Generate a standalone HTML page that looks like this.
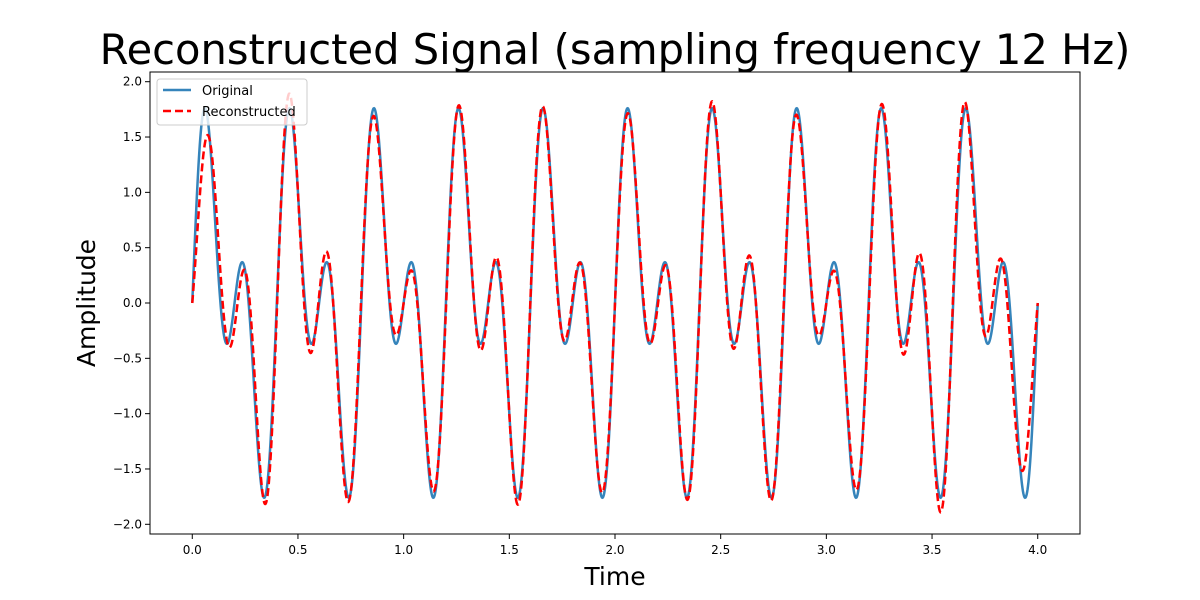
<!DOCTYPE html>
<html><head><meta charset="utf-8">
<style>
html,body{margin:0;padding:0;background:#fff;}
svg{display:block;font-family:"DejaVu Sans","Liberation Sans",sans-serif;}
</style></head>
<body>
<svg id="chart" width="1200" height="600" viewBox="0 0 1200 600">
  <text x="615" y="64" font-size="41.6" text-anchor="middle">Reconstructed Signal (sampling frequency 12 Hz)</text>
  <g id="xticks"></g>
  <g id="yticks"></g>
  <g id="series"></g>
  <rect x="150" y="72" width="930" height="462" fill="none" stroke="#000" stroke-width="1"/>
  <text x="615" y="585" font-size="25" text-anchor="middle">Time</text>
  <text transform="translate(95,303) rotate(-90)" font-size="25" text-anchor="middle">Amplitude</text>
  <g>
    <rect x="157" y="79" width="150" height="46" rx="3" fill="#fff" fill-opacity="0.8" stroke="#ccc"/>
    <line x1="163" y1="90" x2="191" y2="90" stroke="#1f77b4" stroke-opacity="0.9" stroke-width="2.5"/>
    <text x="202" y="95" font-size="13">Original</text>
    <line x1="163" y1="111" x2="191" y2="111" stroke="red" stroke-width="2.5" stroke-dasharray="8,4"/>
    <text x="202" y="116" font-size="13">Reconstructed</text>
  </g>
</svg>
<script>
const componentFreqs = [2.5, 5];
const componentAmps = [1, 1];
const sampleRate = 12;
const duration = 4;
const xTickLabels = ["0.0","0.5","1.0","1.5","2.0","2.5","3.0","3.5","4.0"];
const yTickLabels = ["-2.0","-1.5","-1.0","-0.5","0.0","0.5","1.0","1.5","2.0"];

const NS = "http://www.w3.org/2000/svg";
const X0 = 150, X1 = 1080, Y0 = 72, Y1 = 534;
const xMin = -0.2, xMax = 4.2;
const yUnit = (524.3 - 81.7) / 4;
const yMin = -2.0 - (534 - 524.3) / yUnit, yMax = 2.0 + (81.7 - 72) / yUnit;
const xs = v => X0 + (v - xMin) / (xMax - xMin) * (X1 - X0);
const ys = v => Y1 - (v - yMin) / (yMax - yMin) * (Y1 - Y0);

function signal(t) {
  let s = 0;
  for (let i = 0; i < componentFreqs.length; i++) s += componentAmps[i] * Math.sin(2 * Math.PI * componentFreqs[i] * t);
  return s;
}
const nSamples = Math.round(duration * sampleRate) + 1;
const sampleTimes = [], sampleVals = [];
for (let n = 0; n < nSamples; n++) { sampleTimes.push(n / sampleRate); sampleVals.push(signal(n / sampleRate)); }
function sinc(x) { return x === 0 ? 1 : Math.sin(Math.PI * x) / (Math.PI * x); }
function recon(t) {
  let s = 0;
  for (let n = 0; n < nSamples; n++) s += sampleVals[n] * sinc((t - sampleTimes[n]) * sampleRate);
  return s;
}

const xg = document.getElementById('xticks');
xTickLabels.forEach(l => {
  const v = parseFloat(l), x = xs(v);
  const ln = document.createElementNS(NS, 'line');
  ln.setAttribute('x1', x); ln.setAttribute('x2', x); ln.setAttribute('y1', Y1); ln.setAttribute('y2', Y1 + 5);
  ln.setAttribute('stroke', '#000');
  
  
  xg.appendChild(ln);
  const t = document.createElementNS(NS, 'text');
  t.setAttribute('x', x); t.setAttribute('y', Y1 + 20); t.setAttribute('font-size', '12'); t.setAttribute('text-anchor', 'middle');
  t.textContent = l;
  
  
  xg.appendChild(t);
});
const yg = document.getElementById('yticks');
yTickLabels.forEach(l => {
  const v = parseFloat(l), y = ys(v);
  const ln = document.createElementNS(NS, 'line');
  ln.setAttribute('x1', X0 - 5); ln.setAttribute('x2', X0); ln.setAttribute('y1', y); ln.setAttribute('y2', y);
  ln.setAttribute('stroke', '#000');
  
  
  yg.appendChild(ln);
  const t = document.createElementNS(NS, 'text');
  t.setAttribute('x', X0 - 8); t.setAttribute('y', y + 4); t.setAttribute('font-size', '12'); t.setAttribute('text-anchor', 'end');
  t.textContent = l.replace('-', '\u2212');
  
  
  yg.appendChild(t);
});

const sg = document.getElementById('series');
function path(fn, attrs, name) {
  let d = '';
  const N = 2000;
  for (let i = 0; i <= N; i++) {
    const t = duration * i / N;
    d += (i ? 'L' : 'M') + xs(t).toFixed(2) + ',' + ys(fn(t)).toFixed(2);
  }
  const p = document.createElementNS(NS, 'path');
  p.setAttribute('d', d); p.setAttribute('fill', 'none');
  for (const k in attrs) p.setAttribute(k, attrs[k]);
  
  
  sg.appendChild(p);
}
path(signal, {stroke: '#1f77b4', 'stroke-opacity': '0.9', 'stroke-width': '2.5'}, 'original-line');
path(recon, {stroke: 'red', 'stroke-width': '2.5', 'stroke-dasharray': '8,4'}, 'reconstructed-line');
</script>
</body></html>
